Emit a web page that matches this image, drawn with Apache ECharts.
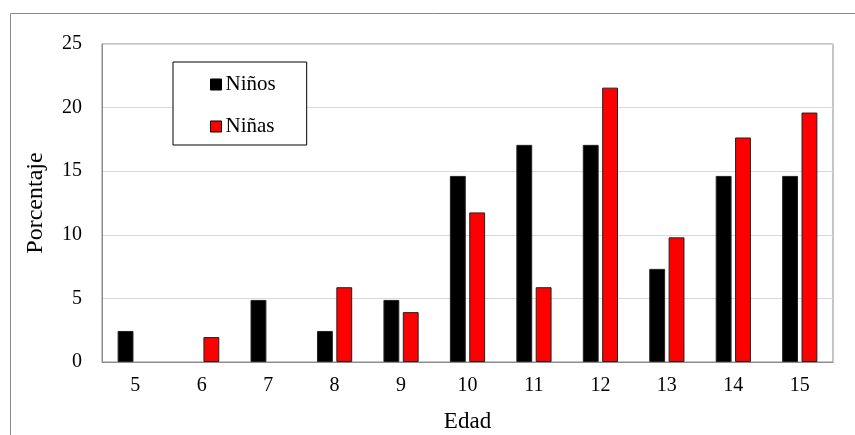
<!DOCTYPE html>
<html><head><meta charset="utf-8">
<script src="https://cdn.jsdelivr.net/npm/echarts@6/dist/echarts.min.js"></script>
<style>html,body{margin:0;padding:0;background:#fff;overflow:hidden}#c{width:855px;height:435px}</style>
</head><body><div id="c"></div>
<script>
const categories = ['5','6','7','8','9','10','11','12','13','14','15'];
const ninos = [2.44, 0, 4.88, 2.44, 4.88, 14.63, 17.07, 17.07, 7.32, 14.63, 14.63];
const ninas = [0, 1.96, 0, 5.88, 3.92, 11.76, 5.88, 21.57, 9.80, 17.65, 19.61];
const yTicks = [0, 5, 10, 15, 20, 25];

const font = '"Liberation Serif", "Times New Roman", serif';
const hideZero = arr => arr.map(v => (v === 0 ? '-' : v));
const chart = echarts.init(document.getElementById('c'), null, {renderer: 'canvas', width: 855, height: 435});
chart.setOption({
  animation: false,
  textStyle: {fontFamily: font, color: '#000'},
  graphic: [{
    type: 'rect', left: 8, top: 11, z: -1,
    shape: {width: 900, height: 500},
    style: {fill: 'none', stroke: '#888', lineWidth: 1}
  }],
  grid: {left: 102, top: 44, width: 731, height: 318, outerBoundsMode: 'none', show: true, borderColor: '#8c8c8c', borderWidth: 1, backgroundColor: 'transparent'},
  legend: {
    left: 173, top: 62, orient: 'vertical',
    backgroundColor: '#fff',
    borderColor: '#000', borderWidth: 1,
    padding: [12, 31, 8, 37],
    itemGap: 21, itemWidth: 11, itemHeight: 11,
    textStyle: {fontFamily: font, fontSize: 21, color: '#000', padding: [0, 0, 0, -1]},
    icon: 'rect',
    data: [{name: 'Niños', itemStyle: {color: '#000', borderColor: '#000', borderWidth: 1}},
           {name: 'Niñas', itemStyle: {color: '#ff0000', borderColor: '#000', borderWidth: 1}}]
  },
  xAxis: {
    type: 'category', data: categories,
    name: 'Edad', nameLocation: 'middle', nameGap: 48,
    nameTextStyle: {fontFamily: font, fontSize: 23, color: '#000'},
    axisLine: {show: true, lineStyle: {color: '#8c8c8c'}},
    axisTick: {show: false},
    axisLabel: {fontFamily: font, fontSize: 20, color: '#000', margin: 14}
  },
  yAxis: {
    type: 'value', min: yTicks[0], max: yTicks[yTicks.length - 1], interval: 5,
    name: 'Porcentaje', nameLocation: 'middle', nameGap: 54, nameRotate: 90,
    nameTextStyle: {fontFamily: font, fontSize: 24, color: '#000'},
    axisLine: {show: true, lineStyle: {color: '#8c8c8c'}},
    axisTick: {show: false},
    axisLabel: {fontFamily: font, fontSize: 20, color: '#000', margin: 20},
    splitLine: {lineStyle: {color: '#d9d9d9', width: 1}}
  },
  series: [
    {name: 'Niños', type: 'bar', data: hideZero(ninos), barGap: '22%', barCategoryGap: '47%',
     itemStyle: {color: '#000', borderColor: '#222', borderWidth: 1}},
    {name: 'Niñas', type: 'bar', data: hideZero(ninas),
     itemStyle: {color: '#ff0000', borderColor: '#222', borderWidth: 1}}
  ]
});
</script></body></html>
